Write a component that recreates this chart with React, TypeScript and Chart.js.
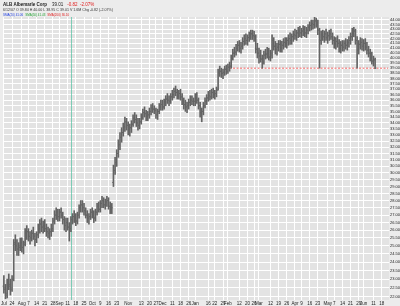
import React, { useEffect, useRef } from "react";
import { Chart, registerables } from "chart.js";

Chart.register(...registerables);

// ---------- categories ----------
const startDate = "2006-07-17";
const endDate = "2007-06-22";
const holidays = [
  "2006-09-04", "2006-11-23", "2006-12-25", "2007-01-01", "2007-01-02",
  "2007-01-15", "2007-02-19", "2007-04-06", "2007-05-28",
];

const tickDates = [
  "2006-07-17", "2006-07-24", "2006-08-01", "2006-08-07", "2006-08-14", "2006-08-21", "2006-08-28",
  "2006-09-01", "2006-09-11", "2006-09-18", "2006-09-25", "2006-10-02", "2006-10-09", "2006-10-16",
  "2006-10-23", "2006-11-01", "2006-11-13", "2006-11-20", "2006-11-27", "2006-12-01", "2006-12-11",
  "2006-12-18", "2006-12-26", "2007-01-03", "2007-01-16", "2007-01-22", "2007-01-29", "2007-02-01",
  "2007-02-12", "2007-02-20", "2007-02-26", "2007-03-01", "2007-03-12", "2007-03-19", "2007-03-26",
  "2007-04-02", "2007-04-09", "2007-04-16", "2007-04-23", "2007-05-01", "2007-05-07", "2007-05-14",
  "2007-05-21", "2007-05-29", "2007-06-01", "2007-06-11", "2007-06-18",
];
const tickLabels = [
  "Jul", "24", "Aug", "7", "14", "21", "28",
  "Sep", "11", "18", "25", "Oct", "9", "16",
  "23", "Nov", "13", "20", "27", "Dec", "11",
  "18", "26", "Jan", "16", "22", "29", "Feb",
  "12", "20", "26", "Mar", "12", "19", "26",
  "Apr", "9", "16", "23", "May", "7", "14",
  "21", "29", "Jun", "11", "18",
];

const yTickValues = [
  22.0, 22.5, 23.0, 23.5, 24.0, 24.5, 25.0, 25.5, 26.0, 26.5, 27.0, 27.5, 28.0, 28.5, 29.0,
  29.5, 30.0, 30.5, 31.0, 31.5, 32.0, 32.5, 33.0, 33.5, 34.0, 34.5, 35.0, 35.5, 36.0, 36.5,
  37.0, 37.5, 38.0, 38.5, 39.0, 39.5, 40.0, 40.5, 41.0, 41.5, 42.0, 42.5, 43.0, 43.5, 44.0,
];

// ---------- OHLC series (daily, from 2006-07-17) ----------
const opens = [
  22.6, 22.4, 22.2, 22.8, 22.6, 22.5, 23.0, 25.2, 25.0, 24.8,
  25.0, 25.2, 24.9, 25.2, 25.8, 25.9, 25.6, 25.5, 25.8, 25.6,
  25.4, 25.7, 26.1, 26.4, 26.2, 26.3, 26.1, 25.9, 25.8, 25.9,
  26.1, 26.6, 27.0, 27.2, 26.9, 27.2, 27.0, 26.7, 26.3, 26.5,
  26.2, 26.1, 26.7, 26.9, 26.8, 26.6, 27.0, 27.5, 27.7, 27.5,
  27.3, 27.0, 26.8, 26.9, 27.2, 27.0, 26.8, 27.2, 27.6, 27.4,
  27.8, 28.0, 27.7, 27.9, 28.0, 27.6, 27.4, 29.3, 30.2, 30.8,
  31.5, 32.2, 32.8, 33.2, 33.7, 34.1, 33.8, 33.4, 33.6, 33.9,
  34.4, 34.3, 34.0, 33.8, 34.1, 34.5, 34.9, 34.8, 34.6, 34.7,
  35.0, 35.3, 35.2, 35.1, 34.7, 35.0, 35.4, 35.6, 35.4, 35.8,
  36.1, 36.0, 35.9, 36.3, 36.5, 36.8, 36.7, 36.4, 36.6, 36.3,
  35.9, 35.6, 35.4, 35.5, 35.8, 36.0, 35.9, 35.9, 36.2, 36.0,
  35.5, 34.9, 35.0, 35.5, 35.9, 36.2, 36.4, 36.3, 36.7, 36.5,
  36.6, 37.0, 38.6, 38.7, 38.5, 38.6, 38.9, 38.7, 39.1, 39.2,
  40.0, 40.5, 40.6, 41.0, 41.3, 41.0, 41.2, 41.7, 42.0, 41.8,
  42.1, 42.3, 42.5, 42.3, 42.2, 40.9, 40.5, 40.2, 39.9, 39.6,
  40.3, 40.4, 40.7, 40.1, 40.3, 41.8, 41.2, 40.9, 41.1, 41.4,
  41.0, 41.3, 41.6, 41.5, 41.8, 42.0, 41.8, 42.2, 42.4, 42.3,
  42.6, 42.8, 42.6, 42.8, 43.0, 42.6, 42.9, 43.2, 43.4, 43.6,
  43.5, 43.9, 43.7, 42.9, 41.8, 42.4, 42.2, 42.5, 42.1, 42.3,
  42.5, 42.2, 41.8, 41.4, 41.7, 41.5, 41.0, 41.3, 41.1, 41.5,
  41.3, 41.6, 41.8, 42.2, 42.7, 42.8, 41.8, 40.8, 41.4, 41.6,
  41.2, 41.5, 41.1, 40.8, 40.5, 40.1, 39.7, 39.8,
];
const highs = [
  23.2, 22.7, 23.0, 23.3, 23.0, 23.2, 25.4, 25.7, 25.4, 25.2,
  25.5, 25.5, 25.3, 26.1, 26.3, 26.1, 25.9, 26.0, 26.2, 25.8,
  25.9, 26.4, 26.7, 26.8, 26.6, 26.7, 26.4, 26.2, 26.1, 26.4,
  26.8, 27.3, 27.5, 27.4, 27.4, 27.5, 27.2, 26.9, 26.8, 26.8,
  26.5, 26.9, 27.1, 27.3, 27.1, 27.2, 27.7, 28.0, 28.0, 27.8,
  27.5, 27.3, 27.1, 27.4, 27.5, 27.3, 27.4, 27.8, 27.9, 28.0,
  28.3, 28.2, 28.1, 28.3, 28.2, 27.9, 27.8, 30.6, 31.2, 31.8,
  32.6, 33.2, 33.6, 34.0, 34.5, 34.4, 34.1, 33.9, 34.2, 34.7,
  34.9, 34.7, 34.4, 34.4, 34.8, 35.2, 35.4, 35.1, 35.0, 35.3,
  35.6, 35.7, 35.5, 35.3, 35.2, 35.7, 36.0, 36.0, 36.1, 36.4,
  36.6, 36.4, 36.6, 36.9, 37.1, 37.3, 37.0, 36.9, 37.0, 36.6,
  36.2, 36.0, 35.8, 36.1, 36.4, 36.4, 36.2, 36.6, 36.7, 36.2,
  35.8, 35.3, 35.8, 36.2, 36.5, 36.8, 36.9, 37.0, 37.1, 36.9,
  37.2, 38.9, 39.2, 39.0, 38.9, 39.2, 39.3, 39.4, 39.6, 40.3,
  40.9, 41.1, 41.4, 41.7, 41.8, 41.6, 42.1, 42.4, 42.5, 42.4,
  42.7, 42.9, 42.9, 42.8, 42.4, 41.5, 41.0, 40.8, 40.3, 40.7,
  40.9, 41.1, 41.0, 40.8, 42.4, 42.1, 41.7, 41.5, 41.8, 41.8,
  41.7, 42.0, 42.1, 42.1, 42.4, 42.6, 42.5, 42.8, 43.0, 42.9,
  43.2, 43.3, 43.1, 43.4, 43.3, 43.2, 43.5, 43.8, 44.0, 44.0,
  44.3, 44.2, 44.0, 43.1, 42.8, 42.9, 42.8, 43.0, 42.7, 42.9,
  43.0, 42.6, 42.2, 42.1, 42.3, 41.9, 41.7, 41.8, 41.8, 42.0,
  41.9, 42.2, 42.6, 43.1, 43.2, 43.0, 42.2, 41.8, 42.1, 42.0,
  41.9, 42.0, 41.6, 41.2, 40.9, 40.6, 40.2, 40.0,
];
const lows = [
  22.2, 21.9, 21.95, 22.4, 22.1, 22.3, 22.9, 24.7, 24.4, 24.4,
  24.7, 24.6, 24.5, 25.0, 25.4, 25.3, 25.1, 25.3, 25.4, 25.0,
  25.2, 25.5, 25.8, 25.9, 25.8, 25.9, 25.6, 25.5, 25.4, 25.6,
  25.9, 26.4, 26.7, 26.6, 26.6, 26.8, 26.4, 26.0, 25.9, 26.0,
  25.3, 25.9, 26.4, 26.5, 26.3, 26.4, 26.8, 27.2, 27.2, 27.0,
  26.8, 26.5, 26.4, 26.7, 26.8, 26.5, 26.6, 27.0, 27.2, 27.2,
  27.5, 27.5, 27.4, 27.6, 27.4, 27.1, 27.1, 29.0, 29.9, 30.5,
  31.2, 31.8, 32.4, 32.9, 33.3, 33.4, 33.0, 32.9, 33.2, 33.7,
  34.0, 33.7, 33.4, 33.5, 33.9, 34.3, 34.5, 34.2, 34.2, 34.4,
  34.7, 34.9, 34.8, 34.4, 34.3, 34.8, 35.1, 35.1, 35.2, 35.5,
  35.7, 35.5, 35.7, 36.0, 36.2, 36.4, 36.1, 36.1, 36.0, 35.6,
  35.2, 35.0, 34.9, 35.2, 35.5, 35.6, 35.5, 35.5, 35.7, 35.2,
  34.5, 34.1, 34.7, 35.3, 35.6, 35.9, 36.0, 36.1, 36.2, 36.1,
  36.3, 36.9, 38.2, 38.1, 38.0, 38.3, 38.4, 38.5, 38.7, 39.0,
  39.8, 40.1, 40.3, 40.7, 40.6, 40.5, 40.9, 41.3, 41.4, 41.3,
  41.7, 41.9, 41.9, 41.7, 40.5, 40.0, 39.5, 39.6, 39.0, 39.4,
  39.9, 40.0, 39.8, 39.7, 40.0, 40.8, 40.4, 40.3, 40.7, 40.6,
  40.6, 40.9, 41.1, 41.0, 41.3, 41.4, 41.4, 41.7, 41.9, 41.8,
  42.1, 42.2, 42.1, 42.3, 42.2, 42.1, 42.5, 42.8, 42.9, 43.0,
  43.1, 43.2, 42.4, 39.0, 41.4, 41.8, 41.6, 41.8, 41.5, 41.8,
  41.9, 41.4, 41.0, 40.9, 41.1, 40.6, 40.5, 40.7, 40.7, 40.9,
  40.8, 41.1, 41.4, 41.8, 42.2, 41.4, 39.0, 40.4, 40.9, 40.8,
  40.7, 40.8, 40.4, 40.1, 39.7, 39.4, 39.2, 38.95,
];
const closes = [
  22.5, 22.1, 22.8, 22.7, 22.4, 23.0, 25.1, 25.0, 24.8, 24.9,
  25.2, 24.9, 25.1, 25.8, 25.9, 25.6, 25.5, 25.8, 25.6, 25.4,
  25.7, 26.1, 26.4, 26.2, 26.3, 26.1, 25.9, 25.8, 25.9, 26.1,
  26.6, 27.0, 27.2, 26.9, 27.2, 27.0, 26.7, 26.3, 26.5, 26.2,
  26.1, 26.7, 26.9, 26.8, 26.6, 27.0, 27.5, 27.7, 27.5, 27.3,
  27.0, 26.8, 26.9, 27.2, 27.0, 26.8, 27.2, 27.6, 27.4, 27.8,
  28.0, 27.7, 27.9, 28.0, 27.6, 27.4, 27.5, 30.2, 30.8, 31.5,
  32.2, 32.8, 33.2, 33.7, 34.1, 33.8, 33.4, 33.6, 33.9, 34.4,
  34.3, 34.0, 33.8, 34.1, 34.5, 34.9, 34.8, 34.6, 34.7, 35.0,
  35.3, 35.2, 35.1, 34.7, 35.0, 35.4, 35.6, 35.4, 35.8, 36.1,
  36.0, 35.9, 36.3, 36.5, 36.8, 36.7, 36.4, 36.6, 36.3, 35.9,
  35.6, 35.4, 35.5, 35.8, 36.0, 35.9, 35.9, 36.2, 36.0, 35.5,
  34.9, 35.0, 35.5, 35.9, 36.2, 36.4, 36.3, 36.7, 36.5, 36.6,
  36.9, 38.6, 38.7, 38.5, 38.6, 38.9, 38.7, 39.1, 39.2, 40.0,
  40.5, 40.6, 41.0, 41.3, 41.0, 41.2, 41.7, 42.0, 41.8, 42.1,
  42.3, 42.5, 42.3, 42.2, 40.9, 40.5, 40.2, 39.9, 39.6, 40.3,
  40.4, 40.7, 40.1, 40.5, 41.8, 41.2, 40.9, 41.1, 41.4, 41.0,
  41.3, 41.6, 41.5, 41.8, 42.0, 41.8, 42.2, 42.4, 42.3, 42.6,
  42.8, 42.6, 42.8, 43.0, 42.6, 42.9, 43.2, 43.4, 43.6, 43.5,
  43.9, 43.7, 42.9, 41.8, 42.4, 42.2, 42.5, 42.1, 42.3, 42.5,
  42.2, 41.8, 41.4, 41.7, 41.5, 41.0, 41.3, 41.1, 41.5, 41.3,
  41.6, 41.8, 42.2, 42.7, 42.8, 41.8, 40.8, 41.4, 41.6, 41.2,
  41.5, 41.1, 40.8, 40.5, 40.1, 39.7, 39.83, 39.01,
];

// ---------- annotations ----------
const supportLevel = 39.0;
const supportFrom = "2007-02-02";
const markerDate = "2006-09-13";

// ---------- header text ----------
const headTitle = "ALB Albemarle Corp";
const headLast = "39.01";
const headChange = "-0.82  -2.07%";
const headDetail = "6/12/07 O 39.84 H 40.00 L 38.95 C 39.01 V 1.6M Chg -0.82 (-2.07%)";
const headStudies = [
  { text: "SMA(20) 41.06", color: "#1f3fe0" },
  { text: "SMA(50) 41.43", color: "#1f9f2f" },
  { text: "SMA(200) 36.10", color: "#e02020" },
];

const BAR_COLOR = "#646464";
const FONT = '"Liberation Sans", Arial, sans-serif';

function buildDays(): string[] {
  const out: string[] = [];
  const d = new Date(startDate + "T00:00:00Z");
  const end = new Date(endDate + "T00:00:00Z");
  const hol = new Set(holidays);
  while (d <= end) {
    const wd = d.getUTCDay();
    const s = d.toISOString().slice(0, 10);
    if (wd !== 0 && wd !== 6 && !hol.has(s)) out.push(s);
    d.setUTCDate(d.getUTCDate() + 1);
  }
  return out;
}

export default function App() {
  const ref = useRef<HTMLCanvasElement | null>(null);

  useEffect(() => {
    document.body.style.margin = "0";
    document.body.style.background = "#ececec";
    const days = buildDays();
    const tickMap = new Map<number, string>();
    tickDates.forEach((t, i) => {
      const idx = days.indexOf(t);
      if (idx >= 0) tickMap.set(idx, tickLabels[i]);
    });
    const markerIdx = days.indexOf(markerDate);
    const supportIdx = days.indexOf(supportFrom);

    const hl = days.map((_, i) => (i < highs.length ? [lows[i], highs[i]] : null));
    const support = days.map((_, i) => (i === supportIdx || i === days.length - 1 ? supportLevel : null));

    const bgPlugin = {
      id: "bg",
      beforeDraw(chart: any) {
        const { ctx, chartArea: a } = chart;
        ctx.save();
        ctx.fillStyle = "#ececec";
        ctx.fillRect(0, 0, chart.width, chart.height);
        ctx.fillStyle = "#e3e3e3";
        ctx.fillRect(a.left, a.top, a.right - a.left, a.bottom - a.top);
        ctx.restore();
      },
      beforeDatasetsDraw(chart: any) {
        const { ctx, chartArea: a } = chart;
        const x = chart.scales.x.getPixelForValue(markerIdx);
        ctx.save();
        ctx.fillStyle = "rgba(90,195,165,0.75)";
        ctx.fillRect(Math.round(x), a.top, 1, a.bottom - a.top);
        ctx.restore();
      },
      afterDatasetsDraw(chart: any) {
        const { ctx } = chart;
        const xs = chart.scales.x;
        const ys = chart.scales.y;
        ctx.save();
        ctx.fillStyle = BAR_COLOR;
        for (let i = 0; i < closes.length; i++) {
          const px = xs.getPixelForValue(i);
          const yo = ys.getPixelForValue(opens[i]);
          const yc = ys.getPixelForValue(closes[i]);
          ctx.fillRect(px - 1.3, yo - 0.5, 0.8, 1);
          ctx.fillRect(px + 0.5, yc - 0.5, 0.8, 1);
        }
        ctx.restore();
      },
      afterDraw(chart: any) {
        const { ctx } = chart;
        ctx.save();
        ctx.textBaseline = "middle";
        ctx.textAlign = "left";
        let x = 3;
        ctx.font = `bold 4.5px ${FONT}`;
        ctx.fillStyle = "#222";
        ctx.fillText(headTitle, x, 4.5);
        x += ctx.measureText(headTitle).width + 5;
        ctx.font = `4.5px ${FONT}`;
        ctx.fillText(headLast, x, 4.5);
        x += ctx.measureText(headLast).width + 4;
        ctx.fillStyle = "#e02020";
        ctx.fillText(headChange, x, 4.5);
        ctx.font = `3.6px ${FONT}`;
        ctx.fillStyle = "#333";
        ctx.fillText(headDetail, 3, 10);
        ctx.font = `3px ${FONT}`;
        x = 3;
        for (const s of headStudies) {
          ctx.fillStyle = s.color;
          ctx.fillText(s.text, x, 14.8);
          x += ctx.measureText(s.text).width + 2;
        }
        ctx.restore();
      },
    };

    const chart = new Chart(ref.current as HTMLCanvasElement, {
      type: "bar",
      data: {
        labels: days,
        datasets: [
          {
            type: "bar",
            data: hl as any,
            backgroundColor: BAR_COLOR,
            borderWidth: 0,
            barThickness: 1,
            borderSkipped: false,
          } as any,
          {
            type: "line",
            data: support as any,
            borderColor: "rgba(240,70,70,0.85)",
            borderWidth: 1,
            borderDash: [2, 1.5],
            pointRadius: 0,
            spanGaps: true,
          } as any,
        ],
      },
      options: {
        animation: false,
        responsive: false,
        devicePixelRatio: 1,
        layout: { padding: { left: 2, right: 0, top: 17, bottom: 0 } },
        plugins: { legend: { display: false }, tooltip: { enabled: false } },
        scales: {
          x: {
            type: "category",
            offset: true,
            grid: {
              offset: false,
              drawTicks: false,
              lineWidth: 1,
              color: (c: any) => (tickMap.has(c.index) ? "#ffffff" : "rgba(0,0,0,0)"),
            },
            border: { display: false },
            ticks: {
              autoSkip: false,
              maxRotation: 0,
              minRotation: 0,
              padding: 1,
              color: "#222",
              font: { size: 4.5, family: FONT },
              callback: (_v: any, i: number) => tickMap.get(i) ?? "",
            },
            afterFit: (s: any) => {
              s.height = 6;
            },
          },
          y: {
            type: "logarithmic",
            position: "right",
            min: 21.83,
            max: 44.33,
            afterBuildTicks: (s: any) => {
              s.ticks = yTickValues.map((v) => ({ value: v }));
            },
            grid: { color: "#ffffff", lineWidth: 1, drawTicks: false },
            border: { display: false },
            ticks: {
              autoSkip: false,
              padding: 1,
              color: "#222",
              font: { size: 4, family: FONT },
              callback: (v: any) => Number(v).toFixed(2),
            },
            afterFit: (s: any) => {
              s.width = 11;
            },
          },
        },
      },
      plugins: [bgPlugin],
    });
    return () => chart.destroy();
  }, []);

  return (
    <div style={{ width: 400, height: 306 }}>
      <canvas ref={ref} width={400} height={306} style={{ display: "block" }} />
    </div>
  );
}
